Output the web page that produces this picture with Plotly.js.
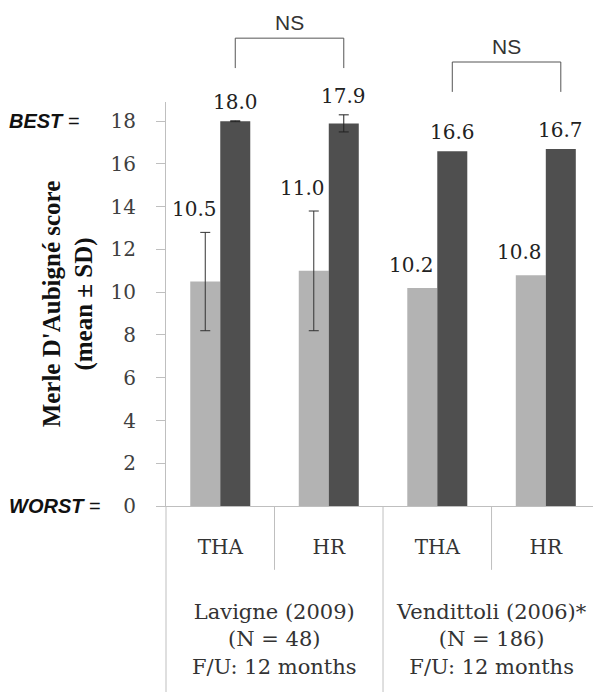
<!DOCTYPE html>
<html>
<head>
<meta charset="utf-8">
<script src="https://cdn.plot.ly/plotly-3.0.1.min.js"></script>
<style>html,body{margin:0;padding:0;background:#fff;}#chart{width:593px;height:692px;}</style>
</head>
<body>
<div id="chart"></div>
<script>
// ---- data ----
var procedures = ['THA', 'HR', 'THA', 'HR'];
var positions = [0, 1, 2, 3];
var preValues = [10.5, 11.0, 10.2, 10.8];
var preSD = [2.3, 2.8, null, null];
var postValues = [18.0, 17.9, 16.6, 16.7];
var postSD = [0.02, 0.4, null, null];
var studyNames = ['Lavigne (2009)', 'Vendittoli (2006)*'];
var studyN = ['(N = 48)', '(N = 186)'];
var studyFU = ['F/U: 12 months', 'F/U: 12 months'];
var studyCenters = [0.5, 2.5];
var yTicks = [0, 2, 4, 6, 8, 10, 12, 14, 16, 18];

// ---- styling ----
var xr = [-0.5, 3.435];
var bargap = 0.447;
var off = (1 - bargap) / 4;
var serif = 'DejaVu Serif';
function xp(v) { return (v - xr[0]) / (xr[1] - xr[0]); }
function nanify(a) { return a.map(function (v) { return v === null ? NaN : v; }); }

var traces = [
  {type: 'bar', x: positions, y: preValues, marker: {color: '#b3b3b3'},
   error_y: {type: 'data', array: nanify(preSD), visible: true, color: '#333', thickness: 1, width: 5},
   hoverinfo: 'none'},
  {type: 'bar', x: positions, y: postValues, marker: {color: '#4f4f4f'},
   error_y: {type: 'data', array: nanify(postSD), visible: true, color: '#222', thickness: 1, width: 5},
   hoverinfo: 'none'}
];

var annotations = [];
positions.forEach(function (p, i) {
  annotations.push({x: p - off, y: preValues[i] + (preSD[i] || 0), xref: 'x', yref: 'y',
    text: preValues[i].toFixed(1), showarrow: false, xanchor: 'center', yanchor: 'middle',
    yshift: 23, xshift: -11, font: {family: serif, size: 20, color: '#222'}});
  annotations.push({x: p + off, y: postValues[i] + (postSD[i] || 0), xref: 'x', yref: 'y',
    text: postValues[i].toFixed(1), showarrow: false, xanchor: 'center', yanchor: 'middle',
    yshift: 19, font: {family: serif, size: 20, color: '#222'}});
});
studyCenters.forEach(function (c, i) {
  annotations.push({x: xp(c), y: -0.228, xref: 'paper', yref: 'paper',
    text: studyNames[i] + '<br>' + studyN[i] + '<br>' + studyFU[i],
    showarrow: false, xanchor: 'center', yanchor: 'top', align: 'center',
    font: {family: serif, size: 21, color: '#333'}});
});
annotations.push({x: -0.372, y: 18, xref: 'paper', yref: 'y', text: '<b><i>BEST</i></b> =',
  showarrow: false, xanchor: 'left', yanchor: 'middle',
  font: {family: 'Liberation Sans', size: 20, color: '#111'}});
annotations.push({x: -0.372, y: 0, xref: 'paper', yref: 'y', text: '<b><i>WORST</i></b> =',
  showarrow: false, xanchor: 'left', yanchor: 'middle',
  font: {family: 'Liberation Sans', size: 20, color: '#111'}});

// NS brackets
var brackets = [
  {a: 0 + off, b: 1 + off, top: 1.158, bot: 1.084},
  {a: 2 + off, b: 3 + off, top: 1.099, bot: 1.025}
];
var shapes = [];
brackets.forEach(function (br) {
  var x0 = xp(br.a), x1 = xp(br.b);
  shapes.push({type: 'path', xref: 'paper', yref: 'paper',
    path: 'M ' + x0 + ' ' + br.bot + ' L ' + x0 + ' ' + br.top + ' L ' + x1 + ' ' + br.top + ' L ' + x1 + ' ' + br.bot,
    line: {color: '#555', width: 1}});
  annotations.push({x: (x0 + x1) / 2, y: br.top + 0.005, xref: 'paper', yref: 'paper', text: 'NS',
    showarrow: false, xanchor: 'center', yanchor: 'bottom',
    font: {family: 'Liberation Sans', size: 21, color: '#333'}});
});
// category dividers
[[-0.5, -0.5], [0.5, -0.158], [1.5, -0.5], [2.5, -0.158]].forEach(function (d) {
  shapes.push({type: 'line', xref: 'paper', yref: 'paper', x0: xp(d[0]), x1: xp(d[0]), y0: 0, y1: d[1],
    line: {color: '#bfbfbf', width: 1}});
});

var layout = {
  width: 593, height: 692,
  margin: {l: 166, r: 0, t: 102, b: 186, pad: 0},
  paper_bgcolor: '#fff', plot_bgcolor: '#fff',
  showlegend: false,
  barmode: 'group', bargap: bargap, bargroupgap: 0,
  xaxis: {range: xr, tickvals: positions, ticktext: procedures, showgrid: false, zeroline: false,
    showline: true, linecolor: '#bfbfbf', linewidth: 1, ticks: '', ticklabelstandoff: 23,
    tickfont: {family: serif, size: 20, color: '#333'}, fixedrange: true},
  yaxis: {range: [0, 18.9], tickvals: yTicks, showgrid: false, zeroline: false,
    showline: true, linecolor: '#bfbfbf', linewidth: 1, ticks: 'outside', ticklen: 9, tickcolor: '#bfbfbf',
    ticklabelstandoff: 16, tickfont: {family: serif, size: 20, color: '#404040'},
    automargin: true,
    title: {text: "<b>Merle D'Aubigné score<br>(mean ± SD)</b>", standoff: 10,
      font: {family: 'Liberation Serif', size: 25, color: '#111'}},
    fixedrange: true},
  annotations: annotations,
  shapes: shapes
};

Plotly.newPlot('chart', traces, layout, {displayModeBar: false, staticPlot: true});
</script>
</body>
</html>
